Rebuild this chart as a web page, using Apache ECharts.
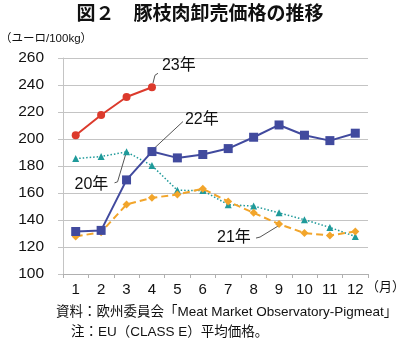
<!DOCTYPE html>
<html><head><meta charset="utf-8">
<script src="https://cdn.jsdelivr.net/npm/echarts@6/dist/echarts.min.js"></script>
<style>html,body{margin:0;padding:0;background:#fff}#c{width:400px;height:346px}</style>
</head><body><div id="c"></div>
<script>
const months = ['1','2','3','4','5','6','7','8','9','10','11','12'];
const yTicks = [100,120,140,160,180,200,220,240,260];
const y20 = [185.5,187,190.5,180.3,162,161.8,151.3,150.3,145.3,140.2,134.5,127.8];
const y21 = [127.8,131,151.5,156.4,158.9,163.1,153.7,145.3,137,130.3,128.6,131.5];
const y22 = [131.5,132.3,169.7,190.7,186,188.5,192.9,201.3,210.4,202.8,198.8,204.3];
const y23 = [202.8,217.8,231.1,238.3];
const seriesNames = ['20年','21年','22年','23年'];

const FONT = '"Liberation Sans","Noto Sans CJK JP",sans-serif';
const chart = echarts.init(document.getElementById('c'), null, {renderer:'canvas'});
chart.setOption({
  animation:false,
  backgroundColor:'#fff',
  textStyle:{fontFamily:FONT},
  title:{text:'図２　豚枝肉卸売価格の推移',left:'center',top:0,
    textStyle:{fontSize:19,fontWeight:'bold',color:'#111',fontFamily:FONT}},
  grid:{left:63,right:32,top:58,bottom:72},
  xAxis:{type:'category',data:months,boundaryGap:true,
    axisLine:{lineStyle:{color:'#b0b0b0'}},
    axisTick:{show:true,length:4,lineStyle:{color:'#b0b0b0'}},
    axisLabel:{color:'#111',fontSize:15,margin:8,fontFamily:FONT}},
  yAxis:{type:'value',min:yTicks[0],max:yTicks[yTicks.length-1],interval:20,
    axisLine:{show:true,lineStyle:{color:'#c4c4c4'}},
    axisTick:{show:true,length:5,lineStyle:{color:'#c4c4c4'}},
    splitLine:{lineStyle:{color:'#c4c4c4'}},
    axisLabel:{color:'#111',fontSize:15.5,margin:19,fontFamily:FONT}},
  series:[
    {name:seriesNames[0],type:'line',data:y20,symbol:'triangle',symbolSize:7,
      itemStyle:{color:'#1f9a9a'},lineStyle:{color:'#1f9a9a',width:1.5,type:[1.5,2]}},
    {name:seriesNames[1],type:'line',data:y21,symbol:'diamond',symbolSize:8,
      itemStyle:{color:'#f2a52b'},lineStyle:{color:'#f2a52b',width:2,type:[7,4]}},
    {name:seriesNames[2],type:'line',data:y22,symbol:'rect',symbolSize:9,
      itemStyle:{color:'#414a9e'},lineStyle:{color:'#414a9e',width:2}},
    {name:seriesNames[3],type:'line',data:y23,symbol:'circle',symbolSize:8,
      itemStyle:{color:'#dc3a2c'},lineStyle:{color:'#dc3a2c',width:2}}
  ]
});

function px(i,v){return chart.convertToPixel({xAxisIndex:0,yAxisIndex:0},[i,v]);}
const p23 = px(3,y23[3]), p22 = px(3,y22[3]), p20 = px(2,y20[2]), p21 = px(8,y21[8]);
const lineStyle = {stroke:'#555',lineWidth:1,fill:null};
const txt = {fontSize:16,fill:'#111',fontFamily:FONT};
chart.setOption({graphic:[
  {type:'text',left:0,top:33,style:{text:'（ユーロ/100kg）',fontSize:11.5,fill:'#111',fontFamily:FONT}},
  {type:'text',left:366,top:281,style:{text:'（月）',fontSize:13,fill:'#111',fontFamily:FONT}},
  {type:'text',left:56,top:306,style:{text:'資料：欧州委員会「Meat Market Observatory-Pigmeat」',fontSize:13.5,fill:'#111',fontFamily:FONT}},
  {type:'text',left:71,top:326,style:{text:'注：EU（CLASS E）平均価格。',fontSize:13.5,fill:'#111',fontFamily:FONT}},
  {type:'polyline',shape:{points:[[p23[0]+1,p23[1]-4],[p23[0]+3,p23[1]-12],[p23[0]+6,p23[1]-14]]},style:lineStyle},
  {type:'text',x:p23[0]+10,y:p23[1]-22,style:Object.assign({text:'23年',textVerticalAlign:'middle'},txt)},
  {type:'polyline',shape:{points:[[p22[0]+2,p22[1]-3],[p22[0]+31,p22[1]-30]]},style:lineStyle},
  {type:'text',x:p22[0]+33,y:p22[1]-32,style:Object.assign({text:'22年',textVerticalAlign:'middle'},txt)},
  {type:'polyline',shape:{points:[[p20[0]-1,p20[1]+3],[p20[0]-9,p20[1]+30],[p20[0]-12,p20[1]+31]]},style:lineStyle},
  {type:'text',x:p20[0]-52,y:p20[1]+33,style:Object.assign({text:'20年',textVerticalAlign:'middle'},txt)},
  {type:'polyline',shape:{points:[[p21[0]-1,p21[1]+2],[p21[0]-19,p21[1]+13],[p21[0]-23,p21[1]+14]]},style:lineStyle},
  {type:'text',x:p21[0]-62,y:p21[1]+14,style:Object.assign({text:'21年',textVerticalAlign:'middle'},txt)}
]});
</script></body></html>
